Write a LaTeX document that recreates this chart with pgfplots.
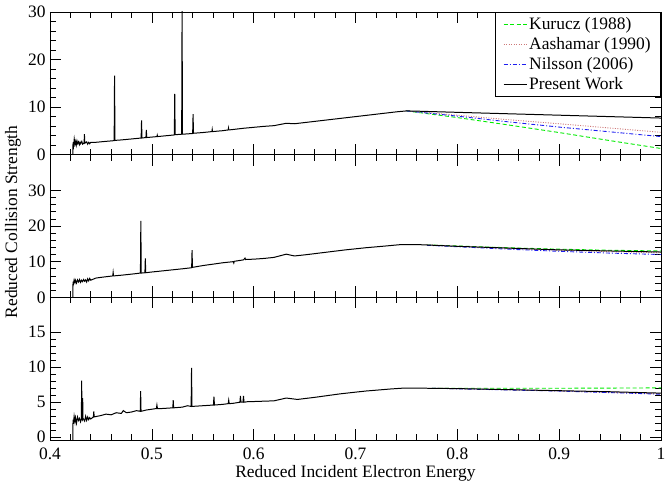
\documentclass[border=0pt]{standalone}
\usepackage{pgfplots}
\pgfplotsset{compat=1.18}
\usepackage{fontspec}
\setmainfont{Liberation Serif}
\definecolor{kgreen}{RGB}{0,235,0}
\definecolor{arose}{RGB}{205,120,120}
\definecolor{nblue}{RGB}{30,30,240}
\newcommand{\lf}{\fontsize{17.5}{20}\selectfont}
\pgfplotsset{
  panel/.style={
    scale only axis, width=611bp, height=142.67bp,
    anchor=south west,
    xmin=0.4, xmax=1,
    xtick={0.4,0.5,0.6,0.7,0.8,0.9,1.0},
    minor x tick num=4, minor y tick num=4,
    tick align=inside, xtick pos=both, ytick pos=both,
    major tick length=11bp, minor tick length=6bp,
    axis line style={line width=0.7pt},
    every tick/.style={black, line width=0.6pt},
    /pgf/number format/assume math mode=true,
    tick label style={font=\lf},
    yticklabel style={xshift=-1bp},
    xticklabel style={yshift=-4bp},
    clip=true,
  },
  pw/.style={black, line width=1pt},
  ku/.style={kgreen, line width=0.9pt, dash pattern=on 4pt off 2.5pt},
  aa/.style={arose, line width=0.9pt, dash pattern=on 1pt off 1.5pt},
  ni/.style={nblue, line width=0.9pt, dash pattern=on 4pt off 2pt on 1pt off 2pt},
}
\begin{document}
\begin{tikzpicture}
\useasboundingbox (0,0) rectangle (665bp,485bp);
% ---------------- Panel 1 ----------------
\begin{axis}[panel, at={(50bp,330.33bp)},
  ymin=0, ymax=30, ytick={0,10,20,30}, xticklabels={},
  legend style={at={(1,1)}, anchor=north east, font=\lf, draw=black,
    line width=0.6pt, inner xsep=8bp, inner ysep=3bp,
    row sep=2.5bp, cells={anchor=west}},
  legend image code/.code={\draw[#1] (0bp,0bp) -- (23bp,0bp);},
]
\addplot[ku] coordinates {(0.75,9.2)(0.80,7.8)(0.85,6.25)(0.90,4.65)(0.95,2.95)(1.0,1.3)};
\addlegendentry{Kurucz (1988)}
\addplot[aa] coordinates {(0.75,9.2)(0.80,8.3)(0.85,7.35)(0.90,6.5)(0.95,5.6)(1.0,4.7)};
\addlegendentry{Aashamar (1990)}
\addplot[ni] coordinates {(0.75,9.2)(0.80,8.1)(0.85,6.9)(0.90,5.8)(0.95,4.8)(1.0,3.8)};
\addlegendentry{Nilsson (2006)}
\addplot[pw] coordinates {
(0.4225,0)(0.4226,2.6)(0.4232,1.9)(0.4238,3.3)(0.4245,2.2)(0.4252,2.8)(0.4258,2.0)
(0.4265,2.9)(0.4272,2.3)(0.428,2.7)(0.4288,2.1)(0.4295,2.6)(0.430,2.3)(0.4312,2.8)
(0.432,2.2)(0.4335,2.5)(0.4338,4.3)(0.4342,2.4)(0.436,2.7)(0.437,2.2)(0.438,2.6)
(0.439,2.3)(0.440,2.6)(0.445,2.6)(0.45,2.7)(0.455,2.8)
(0.4630,2.95)(0.4634,16.6)(0.4638,3.0)(0.47,3.1)(0.475,3.2)(0.48,3.3)
(0.4895,3.5)(0.4899,7.2)(0.4903,3.5)(0.4942,3.6)(0.4946,5.2)(0.4950,3.6)
(0.50,3.7)(0.505,3.8)(0.5053,4.1)(0.5056,3.8)(0.51,3.9)(0.515,4.0)
(0.5221,4.15)(0.5225,12.8)(0.5229,4.2)(0.5293,4.3)(0.5297,31)(0.5301,4.3)
(0.5401,4.45)(0.5405,8.5)(0.5409,4.5)(0.55,4.65)(0.559,4.85)(0.5593,5.3)(0.5596,4.85)
(0.57,5.05)(0.575,5.2)(0.5753,5.6)(0.5756,5.2)(0.58,5.3)(0.59,5.55)(0.60,5.75)
(0.61,5.95)(0.62,6.1)(0.632,6.6)(0.640,6.5)(0.66,7.0)(0.68,7.5)(0.70,8.0)
(0.72,8.5)(0.74,9.0)(0.75,9.2)(0.76,9.15)(0.80,8.9)(0.85,8.6)(0.90,8.3)
(0.95,8.0)(1.0,7.7)};
\addlegendentry{Present Work}
\end{axis}
% ---------------- Panel 2 ----------------
\begin{axis}[panel, at={(50bp,187.67bp)},
  ymin=0, ymax=40, ytick={0,10,20,30}, xticklabels={},
]
\addplot[ku] coordinates {(0.77,14.7)(0.85,13.9)(0.90,13.5)(0.95,13.2)(1.0,13.0)};
\addplot[aa] coordinates {(0.77,14.7)(0.85,13.7)(0.90,13.2)(0.95,12.8)(1.0,12.5)};
\addplot[ni] coordinates {(0.77,14.6)(0.85,13.5)(0.90,12.9)(0.95,12.4)(1.0,12.0)};
\addplot[pw] coordinates {
(0.4225,0)(0.4226,4.4)(0.423,3.8)(0.4237,4.9)(0.4245,4.1)(0.425,4.8)(0.426,4.0)
(0.427,4.9)(0.428,4.3)(0.429,5.0)(0.430,4.2)(0.431,4.8)(0.432,4.4)(0.433,5.0)
(0.434,4.5)(0.435,4.9)(0.436,4.3)(0.437,5.2)(0.438,4.6)(0.439,5.3)(0.440,4.8)
(0.445,5.4)(0.45,5.6)(0.4616,6.0)(0.462,7.0)(0.4624,6.0)(0.47,6.2)(0.48,6.5)
(0.4888,6.8)(0.4892,21.4)(0.4896,6.8)(0.4932,6.9)(0.4936,10.9)(0.494,6.9)
(0.50,7.1)(0.51,7.4)(0.52,7.7)(0.53,8.0)(0.5391,8.3)(0.5395,13.2)(0.5399,8.4)
(0.55,8.9)(0.56,9.3)(0.57,9.7)(0.58,10.0)(0.5805,9.6)(0.581,10.1)(0.59,10.5)
(0.5915,11.0)(0.592,10.6)(0.60,10.7)(0.61,10.9)(0.62,11.2)(0.632,12.1)(0.640,11.6)
(0.65,11.9)(0.67,12.6)(0.69,13.3)(0.71,13.9)(0.73,14.4)(0.745,14.8)(0.76,14.8)
(0.80,14.3)(0.85,13.8)(0.90,13.3)(0.95,13.0)(1.0,12.7)};
\end{axis}
% ---------------- Panel 3 ----------------
\begin{axis}[panel, at={(50bp,45bp)},
  ymin=-0.4, ymax=20, ytick={0,5,10,15},
  xticklabels={0.4,0.5,0.6,0.7,0.8,0.9,1},
  xlabel={Reduced Incident Electron Energy},
  xlabel style={font=\lf, yshift=1bp},
]
\addplot[ku] coordinates {(0.775,7.0)(0.85,7.0)(0.90,7.0)(1.0,7.05)};
\addplot[aa] coordinates {(0.775,7.0)(0.85,6.8)(0.90,6.6)(1.0,6.2)};
\addplot[ni] coordinates {(0.775,7.0)(0.85,6.75)(0.90,6.6)(1.0,6.15)};
\addplot[pw] coordinates {
(0.4225,-0.5)(0.4226,2.5)(0.423,1.9)(0.4237,3.0)(0.4245,2.2)(0.425,2.8)(0.426,2.0)
(0.427,2.9)(0.428,2.4)(0.429,2.7)(0.430,2.2)(0.4308,2.6)(0.4311,8.1)(0.4314,2.6)
(0.4318,2.5)(0.4321,5.6)(0.4324,2.7)(0.434,2.3)(0.435,3.0)(0.436,2.4)(0.437,2.9)
(0.438,2.5)(0.439,2.8)(0.440,2.6)(0.4426,2.9)(0.443,3.7)(0.4434,2.9)(0.45,3.1)
(0.455,3.3)(0.46,3.2)(0.465,3.5)(0.47,3.4)(0.472,3.8)(0.475,3.5)(0.48,3.6)
(0.485,3.8)(0.4886,3.7)(0.489,6.6)(0.4894,3.7)(0.495,3.9)(0.50,4.0)(0.5045,4.1)
(0.505,4.6)(0.5055,4.1)(0.51,4.1)(0.5206,4.2)(0.521,5.3)(0.5214,4.2)(0.53,4.3)
(0.535,4.5)(0.5386,4.4)(0.539,9.9)(0.5394,4.4)(0.55,4.5)(0.5605,4.6)(0.561,5.8)
(0.5615,4.6)(0.57,4.7)(0.575,4.8)(0.5755,5.3)(0.576,4.8)(0.58,4.85)(0.5865,5.0)
(0.587,5.9)(0.5875,5.0)(0.5895,5.0)(0.59,5.9)(0.5905,5.0)(0.595,5.1)(0.60,5.1)
(0.62,5.2)(0.632,5.6)(0.643,5.4)(0.66,5.7)(0.685,6.2)(0.71,6.6)(0.735,6.9)
(0.745,7.0)(0.77,7.0)(0.80,6.95)(0.85,6.8)(0.90,6.65)(0.95,6.5)(1.0,6.3)};
\end{axis}
\node[rotate=90, font=\lf] at (13bp,263bp) {Reduced Collision Strength};
\end{tikzpicture}
\end{document}
